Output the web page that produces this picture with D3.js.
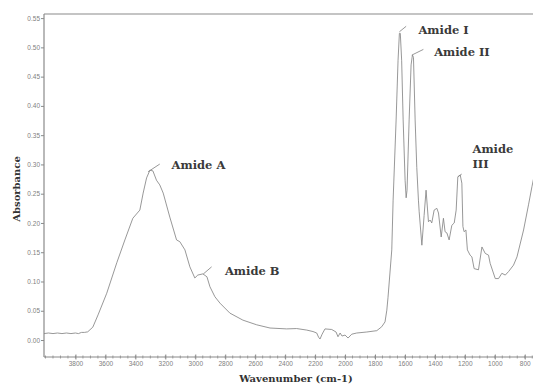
<!DOCTYPE html>
<html><head><meta charset="utf-8">
<script src="https://cdn.jsdelivr.net/npm/d3@7"></script>
<style>
html,body{margin:0;padding:0;background:#fff;}
svg{display:block;}
</style></head>
<body>
<svg id="chart" width="533" height="385"></svg>
<script>
// Spectrum (FTIR)
const wavenumber = [4010,3980,3950,3920,3890,3860,3830,3800,3780,3760,3740,3718,3684,3649,3591,3524,3470,3417,3370,3348,3325,3303,3283,3259,3237,3214,3170,3125,3103,3069,3036,3003,2983,2949,2922,2902,2869,2835,2769,2682,2590,2501,2390,2323,2256,2214,2189,2177,2167,2153,2134,2089,2060,2047,2033,2020,2000,1980,1955,1922,1855,1788,1755,1733,1721,1713,1688,1679,1659,1646,1637,1631,1622,1612,1599,1592,1586,1572,1559,1550,1543,1532,1521,1510,1505,1487,1472,1459,1443,1432,1421,1405,1387,1376,1358,1343,1332,1320,1305,1287,1271,1258,1247,1231,1220,1213,1205,1193,1183,1165,1153,1138,1109,1086,1064,1042,1031,997,975,953,930,908,875,852,808,775,752,730];
const absorbance = [0.011,0.012,0.011,0.012,0.011,0.012,0.011,0.012,0.011,0.013,0.013,0.014,0.022,0.043,0.080,0.132,0.171,0.208,0.222,0.251,0.277,0.290,0.289,0.273,0.265,0.251,0.210,0.171,0.168,0.154,0.125,0.106,0.111,0.113,0.108,0.091,0.074,0.063,0.046,0.034,0.026,0.0205,0.019,0.0196,0.017,0.0145,0.012,0.005,0.0017,0.010,0.019,0.018,0.0137,0.0056,0.012,0.0068,0.0085,0.0034,0.010,0.012,0.0137,0.016,0.0227,0.031,0.051,0.073,0.154,0.239,0.376,0.478,0.524,0.524,0.478,0.376,0.273,0.243,0.256,0.376,0.470,0.487,0.483,0.376,0.295,0.239,0.219,0.162,0.213,0.256,0.202,0.205,0.200,0.222,0.225,0.217,0.176,0.208,0.185,0.183,0.171,0.196,0.200,0.222,0.279,0.282,0.268,0.194,0.185,0.188,0.154,0.145,0.142,0.122,0.120,0.159,0.148,0.145,0.131,0.105,0.105,0.114,0.111,0.117,0.128,0.142,0.188,0.231,0.262,0.290];

const xTickValues = [3800,3600,3400,3200,3000,2800,2600,2400,2200,2000,1800,1600,1400,1200,1000,800];
const yTickValues = [0.00,0.05,0.10,0.15,0.20,0.25,0.30,0.35,0.40,0.45,0.50,0.55];

// Annotations: label text lines, label anchor (wavenumber, absorbance), leader line ends
const annLabels = [["Amide A"],["Amide B"],["Amide I"],["Amide II"],["Amide","III"]];
const annLabelPos = [[3158,0.293],[2802,0.111],[1510,0.5226],[1405,0.485],[1149,0.320]];
const annLineFrom = [[3315,0.2875],[2947,0.1127],[1637,0.5266],[1554,0.4868],[1245,0.279]];
const annLineTo = [[3237,0.3006],[2891,0.125],[1592,0.536],[1477,0.4965],[1221,0.2835]];

const svg = d3.select("#chart");
const L = 44, R = 533, T = 14, B = 357;
const x = d3.scaleLinear().domain([4010, 745]).range([L, R]);
const y = d3.scaleLinear().domain([-0.029, 0.557]).range([B, T]);

const axisColor = "#8a8a8a";
const tickFont = "Liberation Sans, Arial, sans-serif";
const serif = "DejaVu Serif, serif";

svg.append("defs").append("clipPath").attr("id","clip")
  .append("rect").attr("x",L).attr("y",T).attr("width",R-L).attr("height",B-T);

// top border
svg.append("line").attr("x1",L).attr("x2",R).attr("y1",T).attr("y2",T)
  .attr("stroke",axisColor).attr("stroke-width",1.2);

// Y axis
const yAxis = d3.axisLeft(y).tickValues(yTickValues).tickFormat(d3.format(".2f")).tickSize(3).tickPadding(1);
const gy = svg.append("g").attr("transform",`translate(${L},0)`).call(yAxis);
gy.select(".domain").attr("stroke",axisColor).attr("stroke-width",1.2).attr("d",`M0,${T}V${B}`);
gy.selectAll(".tick line").attr("stroke",axisColor);
gy.selectAll(".tick text").attr("fill","#808080").style("font-family",tickFont).style("font-size","6.5px");

// X axis - minor ticks crossing axis
const minor = d3.range(4000, 740, -50);
const gxm = svg.append("g");
gxm.selectAll("line").data(minor).join("line")
  .attr("x1",d=>x(d)).attr("x2",d=>x(d)).attr("y1",B-1.5).attr("y2",B+1.5)
  .attr("stroke",axisColor).attr("stroke-width",0.8);
const xAxis = d3.axisBottom(x).tickValues(xTickValues).tickFormat(d3.format("d")).tickSize(2.5).tickPadding(2);
const gx = svg.append("g").attr("transform",`translate(0,${B})`).call(xAxis);
gx.select(".domain").attr("stroke",axisColor).attr("stroke-width",1.2).attr("d",`M${L},0H${R}`);
gx.selectAll(".tick line").attr("stroke",axisColor).attr("y1",-2.5);
gx.selectAll(".tick text").attr("fill","#808080").style("font-family",tickFont).style("font-size","6.5px");

// Spectrum
const pts = wavenumber.map((w,i)=>[w,absorbance[i]]);
svg.append("path").datum(pts).attr("clip-path","url(#clip)")
  .attr("fill","none").attr("stroke","#858585").attr("stroke-width",0.85)
  .attr("d", d3.line().x(d=>x(d[0])).y(d=>y(d[1])));

// Leader lines
svg.append("g").selectAll("line").data(annLineFrom).join("line")
  .attr("x1",d=>x(d[0])).attr("y1",d=>y(d[1]))
  .attr("x2",(d,i)=>x(annLineTo[i][0])).attr("y2",(d,i)=>y(annLineTo[i][1]))
  .attr("stroke","#858585").attr("stroke-width",0.85);

// Labels
const gl = svg.append("g");
annLabels.forEach((lines,i)=>{
  const t = gl.append("text").attr("x",x(annLabelPos[i][0])).attr("y",y(annLabelPos[i][1]))
    .attr("fill","#3a3a3a").style("font-family",serif).style("font-weight","bold").style("font-size","11.5px");
  lines.forEach((s,j)=>{
    t.append("tspan").attr("x",x(annLabelPos[i][0])).attr("dy", j===0?0:15.6).text(s);
  });
});

// Axis titles
svg.append("text").attr("x",296).attr("y",381.5).attr("text-anchor","middle")
  .attr("fill","#333").style("font-family",serif).style("font-weight","bold").style("font-size","10px")
  .text("Wavenumber (cm-1)");
svg.append("text").attr("transform","translate(20,189) rotate(-90)").attr("text-anchor","middle")
  .attr("fill","#333").style("font-family",serif).style("font-weight","bold").style("font-size","10px")
  .text("Absorbance");
</script>
</body></html>
